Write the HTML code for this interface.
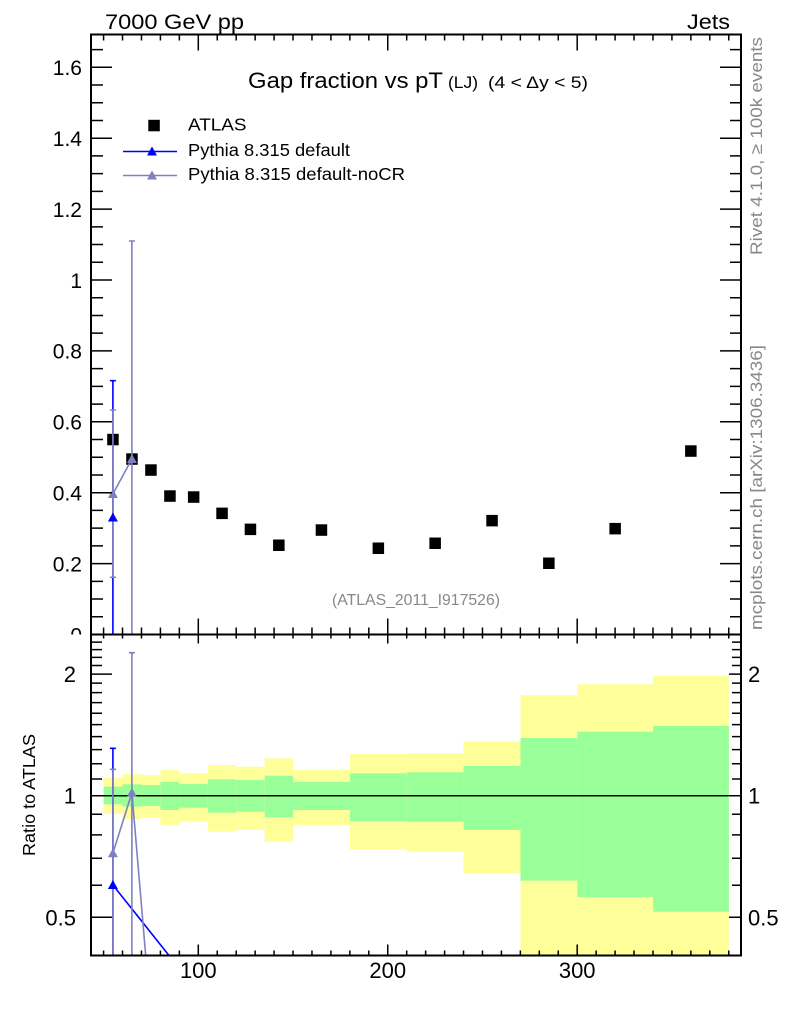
<!DOCTYPE html>
<html>
<head>
<meta charset="utf-8">
<style>
html,body{margin:0;padding:0;background:#fff;}
svg{display:block;}
text{font-family:"Liberation Sans",Arial,sans-serif;}
</style>
</head>
<body>
<svg width="786" height="1024" viewBox="0 0 786 1024" xmlns="http://www.w3.org/2000/svg">
<defs>
<clipPath id="cm"><rect x="91" y="34.5" width="650" height="600"/></clipPath>
<clipPath id="cr"><rect x="91" y="634.5" width="650" height="321"/></clipPath>
<clipPath id="cl"><rect x="0" y="0" width="91" height="634.5"/></clipPath>
</defs>
<rect width="786" height="1024" fill="#fff"/>

<!-- top labels -->
<text x="105" y="29" font-size="21" textLength="139" lengthAdjust="spacingAndGlyphs">7000 GeV pp</text>
<text x="687" y="29" font-size="21" textLength="43" lengthAdjust="spacingAndGlyphs">Jets</text>

<!-- ratio bands -->
<g>
<rect x="103.6" y="777.7" width="18.9" height="36.3" fill="#ffff99"/><rect x="103.6" y="786.7" width="18.9" height="17.6" fill="#99ff99"/>
<rect x="122.5" y="774.3" width="19" height="44.7" fill="#ffff99"/><rect x="122.5" y="784.3" width="19" height="22.4" fill="#99ff99"/>
<rect x="141.5" y="775" width="18.9" height="42.7" fill="#ffff99"/><rect x="141.5" y="785" width="18.9" height="21" fill="#99ff99"/>
<rect x="160.4" y="770" width="19" height="55" fill="#ffff99"/><rect x="160.4" y="782" width="19" height="28" fill="#99ff99"/>
<rect x="179.4" y="773.3" width="28.4" height="48.4" fill="#ffff99"/><rect x="179.4" y="784" width="28.4" height="23.7" fill="#99ff99"/>
<rect x="207.8" y="765" width="28.4" height="66.7" fill="#ffff99"/><rect x="207.8" y="779.3" width="28.4" height="33.4" fill="#99ff99"/>
<rect x="236.2" y="766.7" width="28.5" height="63.3" fill="#ffff99"/><rect x="236.2" y="780" width="28.5" height="31.7" fill="#99ff99"/>
<rect x="264.7" y="758.3" width="28.4" height="83.4" fill="#ffff99"/><rect x="264.7" y="775.7" width="28.4" height="41.6" fill="#99ff99"/>
<rect x="293.1" y="770" width="56.9" height="55" fill="#ffff99"/><rect x="293.1" y="782" width="56.9" height="28" fill="#99ff99"/>
<rect x="350" y="754" width="56.8" height="95.3" fill="#ffff99"/><rect x="350" y="773.3" width="56.8" height="47.7" fill="#99ff99"/>
<rect x="406.8" y="753.3" width="56.8" height="98.4" fill="#ffff99"/><rect x="406.8" y="772.3" width="56.8" height="49.4" fill="#99ff99"/>
<rect x="463.6" y="741.7" width="56.9" height="131.6" fill="#ffff99"/><rect x="463.6" y="766" width="56.9" height="64" fill="#99ff99"/>
<rect x="520.5" y="695" width="56.8" height="260.5" fill="#ffff99"/><rect x="520.5" y="738" width="56.8" height="142.7" fill="#99ff99"/>
<rect x="577.3" y="684.3" width="75.8" height="271.2" fill="#ffff99"/><rect x="577.3" y="731.7" width="75.8" height="165.3" fill="#99ff99"/>
<rect x="653.1" y="675.7" width="75.8" height="279.8" fill="#ffff99"/><rect x="653.1" y="726" width="75.8" height="185.7" fill="#99ff99"/>
</g>
<line x1="103.6" y1="795.7" x2="728.8" y2="795.7" stroke="#000" stroke-width="1.5"/>

<!-- ratio curves -->
<g clip-path="url(#cr)" fill="none" stroke-width="1.6">
<path d="M112.9 748.3V960M109.9 748.3h6" stroke="#0000ff"/>
<path d="M112.9 885L169 955.5" stroke="#0000ff"/>
<path d="M112.9 769.3V960M109.9 769.3h6M131.9 652.7V960M128.9 652.7h6" stroke="#8080c0"/>
<path d="M112.9 853.3L131.9 792.7L145.7 955.5" stroke="#8080c0"/>
</g>
<g clip-path="url(#cr)">
<polygon points="107.9,889 117.9,889 112.9,880" fill="#0000ff"/>
<polygon points="107.9,857.3 117.9,857.3 112.9,848.3" fill="#8080c0"/>
<polygon points="126.9,796.7 136.9,796.7 131.9,787.7" fill="#8080c0"/>
</g>

<!-- main data squares -->
<g fill="#000">
<rect x="107.2" y="433.8" width="11.5" height="11.5"/>
<rect x="126.2" y="453.3" width="11.5" height="11.5"/>
<rect x="145.2" y="464.3" width="11.5" height="11.5"/>
<rect x="164.2" y="490.3" width="11.5" height="11.5"/>
<rect x="187.9" y="491.3" width="11.5" height="11.5"/>
<rect x="216.3" y="507.6" width="11.5" height="11.5"/>
<rect x="244.7" y="523.6" width="11.5" height="11.5"/>
<rect x="273.1" y="539.5" width="11.5" height="11.5"/>
<rect x="315.7" y="524.3" width="11.5" height="11.5"/>
<rect x="372.6" y="542.5" width="11.5" height="11.5"/>
<rect x="429.4" y="537.5" width="11.5" height="11.5"/>
<rect x="486.3" y="514.9" width="11.5" height="11.5"/>
<rect x="543.1" y="557.5" width="11.5" height="11.5"/>
<rect x="609.4" y="522.9" width="11.5" height="11.5"/>
<rect x="685.1" y="445.3" width="11.5" height="11.5"/>
</g>

<!-- main MC curves -->
<g clip-path="url(#cm)" fill="none" stroke-width="1.6">
<path d="M112.9 380.7V640M109.9 380.7h6" stroke="#0000ff"/>
<path d="M112.9 410V577.3M109.9 410h6M109.9 577.3h6M131.9 241V640M128.9 241h6" stroke="#8080c0"/>
<path d="M112.9 494L131.9 459" stroke="#8080c0"/>
</g>
<polygon points="107.9,521.5 117.9,521.5 112.9,512.5" fill="#0000ff"/>
<polygon points="107.9,498 117.9,498 112.9,489" fill="#8080c0"/>
<polygon points="126.9,463 136.9,463 131.9,454" fill="#8080c0"/>

<!-- title -->
<text x="248" y="88" font-size="22" textLength="195" lengthAdjust="spacingAndGlyphs">Gap fraction vs pT</text>
<text x="448" y="88" font-size="17" textLength="30" lengthAdjust="spacingAndGlyphs">(LJ)</text>
<text x="488" y="88" font-size="17" textLength="100" lengthAdjust="spacingAndGlyphs">(4 &lt; Δy &lt; 5)</text>

<!-- legend -->
<rect x="148.3" y="119.8" width="11.5" height="11.5" fill="#000"/>
<text x="188" y="130.5" font-size="17.5" textLength="58.5" lengthAdjust="spacingAndGlyphs">ATLAS</text>
<line x1="123" y1="151.5" x2="177" y2="151.5" stroke="#0000ff" stroke-width="1.6"/>
<polygon points="147,155.5 157,155.5 152,146.5" fill="#0000ff"/>
<text x="188" y="156" font-size="17.5" textLength="162" lengthAdjust="spacingAndGlyphs">Pythia 8.315 default</text>
<line x1="123" y1="175.5" x2="177" y2="175.5" stroke="#8080c0" stroke-width="1.6"/>
<polygon points="147,179.5 157,179.5 152,170.5" fill="#8080c0"/>
<text x="188" y="180" font-size="17.5" textLength="217" lengthAdjust="spacingAndGlyphs">Pythia 8.315 default-noCR</text>

<!-- analysis label -->
<text x="332" y="605" font-size="15.5" fill="#888" textLength="168" lengthAdjust="spacingAndGlyphs">(ATLAS_2011_I917526)</text>

<!-- frames -->
<rect x="91" y="34.5" width="650" height="600" fill="none" stroke="#000" stroke-width="2"/>
<rect x="91" y="634.5" width="650" height="321" fill="none" stroke="#000" stroke-width="2"/>

<!-- x ticks -->
<g stroke="#000" stroke-width="1.5" fill="none">
<path d="M103.58 34.5v6M122.52 34.5v6M141.47 34.5v6M160.42 34.5v6M179.36 34.5v6M198.3 34.5v16M217.25 34.5v6M236.19 34.5v6M255.14 34.5v6M274.08 34.5v6M293.03 34.5v6M311.97 34.5v6M330.92 34.5v6M349.86 34.5v6M368.81 34.5v6M387.75 34.5v16M406.7 34.5v6M425.64 34.5v6M444.59 34.5v6M463.53 34.5v6M482.48 34.5v6M501.42 34.5v6M520.37 34.5v6M539.31 34.5v6M558.26 34.5v6M577.2 34.5v16M596.15 34.5v6M615.09 34.5v6M634.04 34.5v6M652.98 34.5v6M671.93 34.5v6M690.87 34.5v6M709.82 34.5v6M728.76 34.5v6"/>
<path d="M103.58 634.5v-7M122.52 634.5v-7M141.47 634.5v-7M160.42 634.5v-7M179.36 634.5v-7M198.3 634.5v-16M217.25 634.5v-7M236.19 634.5v-7M255.14 634.5v-7M274.08 634.5v-7M293.03 634.5v-7M311.97 634.5v-7M330.92 634.5v-7M349.86 634.5v-7M368.81 634.5v-7M387.75 634.5v-16M406.7 634.5v-7M425.64 634.5v-7M444.59 634.5v-7M463.53 634.5v-7M482.48 634.5v-7M501.42 634.5v-7M520.37 634.5v-7M539.31 634.5v-7M558.26 634.5v-7M577.2 634.5v-16M596.15 634.5v-7M615.09 634.5v-7M634.04 634.5v-7M652.98 634.5v-7M671.93 634.5v-7M690.87 634.5v-7M709.82 634.5v-7M728.76 634.5v-7"/>
<path d="M103.58 634.5v4M122.52 634.5v4M141.47 634.5v4M160.42 634.5v4M179.36 634.5v4M198.3 634.5v9M217.25 634.5v4M236.19 634.5v4M255.14 634.5v4M274.08 634.5v4M293.03 634.5v4M311.97 634.5v4M330.92 634.5v4M349.86 634.5v4M368.81 634.5v4M387.75 634.5v9M406.7 634.5v4M425.64 634.5v4M444.59 634.5v4M463.53 634.5v4M482.48 634.5v4M501.42 634.5v4M520.37 634.5v4M539.31 634.5v4M558.26 634.5v4M577.2 634.5v9M596.15 634.5v4M615.09 634.5v4M634.04 634.5v4M652.98 634.5v4M671.93 634.5v4M690.87 634.5v4M709.82 634.5v4M728.76 634.5v4"/>
<path d="M103.58 955.5v-5M122.52 955.5v-5M141.47 955.5v-5M160.42 955.5v-5M179.36 955.5v-5M198.3 955.5v-11M217.25 955.5v-5M236.19 955.5v-5M255.14 955.5v-5M274.08 955.5v-5M293.03 955.5v-5M311.97 955.5v-5M330.92 955.5v-5M349.86 955.5v-5M368.81 955.5v-5M387.75 955.5v-11M406.7 955.5v-5M425.64 955.5v-5M444.59 955.5v-5M463.53 955.5v-5M482.48 955.5v-5M501.42 955.5v-5M520.37 955.5v-5M539.31 955.5v-5M558.26 955.5v-5M577.2 955.5v-11M596.15 955.5v-5M615.09 955.5v-5M634.04 955.5v-5M652.98 955.5v-5M671.93 955.5v-5M690.87 955.5v-5M709.82 955.5v-5M728.76 955.5v-5"/>

<path d="M91 563.6h21M91 492.7h21M91 421.8h21M91 350.9h21M91 280h21M91 209.1h21M91 138.2h21M91 67.3h21"/>
<path d="M91 616.78h12M91 599.05h12M91 581.33h12M91 545.88h12M91 528.15h12M91 510.43h12M91 474.98h12M91 457.25h12M91 439.53h12M91 404.08h12M91 386.35h12M91 368.63h12M91 333.18h12M91 315.45h12M91 297.73h12M91 262.28h12M91 244.55h12M91 226.83h12M91 191.38h12M91 173.65h12M91 155.93h12M91 120.48h12M91 102.75h12M91 85.03h12M91 49.58h12"/>
<path d="M741 563.6h-21M741 492.7h-21M741 421.8h-21M741 350.9h-21M741 280h-21M741 209.1h-21M741 138.2h-21M741 67.3h-21"/>
<path d="M741 616.78h-11M741 599.05h-11M741 581.33h-11M741 545.88h-11M741 528.15h-11M741 510.43h-11M741 474.98h-11M741 457.25h-11M741 439.53h-11M741 404.08h-11M741 386.35h-11M741 368.63h-11M741 333.18h-11M741 315.45h-11M741 297.73h-11M741 262.28h-11M741 244.55h-11M741 226.83h-11M741 191.38h-11M741 173.65h-11M741 155.93h-11M741 120.48h-11M741 102.75h-11M741 85.03h-11M741 49.58h-11"/>
<path d="M91 917.3h21M91 795.7h21M91 674.1h21"/>
<path d="M91 885.3h11M91 858.3h11M91 834.85h11M91 814.2h11M91 778.98h11M91 763.72h11M91 749.67h11M91 736.67h11M91 724.57h11M91 713.25h11M91 702.61h11M91 692.58h11M91 683.1h11M91 665.54h11M91 657.38h11M91 649.58h11M91 642.12h11"/>
<path d="M741 917.3h-12M741 795.7h-12M741 674.1h-12"/>
<path d="M741 885.3h-9M741 858.3h-9M741 834.85h-9M741 814.2h-9M741 778.98h-9M741 763.72h-9M741 749.67h-9M741 736.67h-9M741 724.57h-9M741 713.25h-9M741 702.61h-9M741 692.58h-9M741 683.1h-9M741 665.54h-9M741 657.38h-9M741 649.58h-9M741 642.12h-9"/>
</g>

<!-- main y labels -->
<g font-size="21" text-anchor="end">
<text x="82" y="642.3" clip-path="url(#cl)">0</text>
<text x="82" y="571.4">0.2</text>
<text x="82" y="500.5">0.4</text>
<text x="82" y="429.6">0.6</text>
<text x="82" y="358.7">0.8</text>
<text x="82" y="287.8">1</text>
<text x="82" y="216.9">1.2</text>
<text x="82" y="146">1.4</text>
<text x="82" y="75.1">1.6</text>
</g>

<!-- ratio labels -->
<g font-size="22" text-anchor="end">
<text x="76" y="682">2</text>
<text x="76" y="803.7">1</text>
<text x="76" y="925.3">0.5</text>
</g>
<g font-size="22">
<text x="748" y="682">2</text>
<text x="748" y="803.7">1</text>
<text x="748" y="925.3">0.5</text>
</g>

<!-- x labels -->
<g font-size="22" text-anchor="middle">
<text x="198.3" y="978">100</text>
<text x="387.75" y="978">200</text>
<text x="577.2" y="978">300</text>
</g>

<!-- rotated labels -->
<text transform="translate(35,856) rotate(-90)" font-size="17.5" textLength="122" lengthAdjust="spacingAndGlyphs">Ratio to ATLAS</text>
<text transform="translate(762,255) rotate(-90)" font-size="17" fill="#888" textLength="218" lengthAdjust="spacingAndGlyphs">Rivet 4.1.0, ≥ 100k events</text>
<text transform="translate(762,630) rotate(-90)" font-size="17" fill="#888" textLength="285" lengthAdjust="spacingAndGlyphs">mcplots.cern.ch [arXiv:1306.3436]</text>
</svg>
</body>
</html>
